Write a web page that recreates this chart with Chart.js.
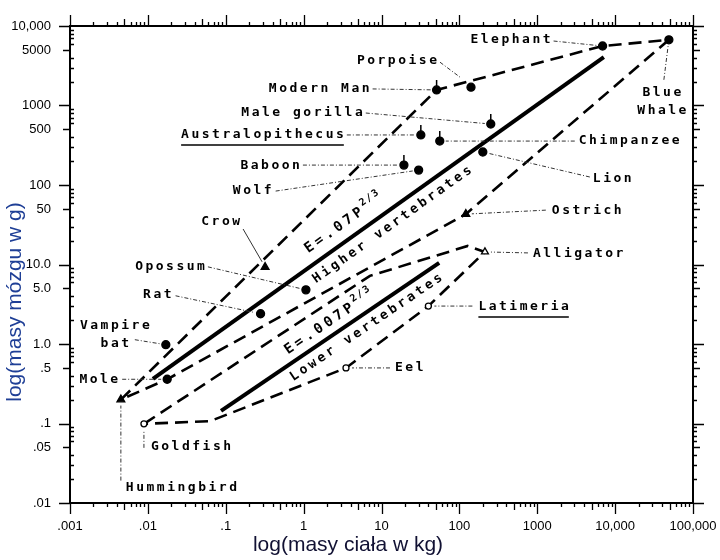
<!DOCTYPE html>
<html lang="pl">
<head>
<meta charset="UTF-8">
<title>Masa mózgu a masa ciała</title>
<script src="https://cdn.jsdelivr.net/npm/chart.js"></script>
<style>
  html, body { margin: 0; padding: 0; background: #fff; }
  #wrap { width: 720px; height: 560px; }
</style>
</head>
<body>
<div id="wrap"><canvas id="brainChart"></canvas></div>
<script>
// gatunki: masa ciała [kg], masa mózgu [g]
const species = ['Elephant', 'Blue Whale', 'Porpoise', 'Modern Man', 'Male gorilla', 'Australopithecus',
  'Chimpanzee', 'Lion', 'Baboon', 'Wolf', 'Crow', 'Opossum', 'Rat', 'Vampire bat', 'Mole',
  'Hummingbird', 'Goldfish', 'Ostrich', 'Alligator', 'Latimeria', 'Eel'];
const bodyKg = [6900, 49000, 141, 51, 253, 32, 56, 200, 19.4, 30, 0.32, 1.07, 0.28, 0.017, 0.0177,
  0.0045, 0.0089, 121, 213, 40, 3.5];
const brainG = [5600, 6700, 1700, 1570, 585, 426, 357, 260, 178, 154, 9.3, 4.8, 2.4, 0.98, 0.36,
  0.20, 0.099, 43, 14.4, 3.0, 0.50];
const group = ['mammal', 'mammal', 'mammal', 'primate', 'primate', 'primate', 'primate', 'mammal',
  'primate', 'mammal', 'bird', 'mammal', 'mammal', 'mammal', 'mammal', 'bird', 'fish', 'bird',
  'reptile', 'fish', 'fish'];

// obwiednie (linie przerywane)
const higherPolyX = [0.0045, 51, 6900, 49000, 121, 0.0177, 0.0045];
const higherPolyY = [0.20, 1570, 5600, 6700, 43, 0.36, 0.20];
const lowerPolyX = [0.0089, 7.1, 128, 213, 40, 3.5, 0.063, 0.0089];
const lowerPolyY = [0.099, 7.2, 17.1, 14.4, 3.0, 0.50, 0.107, 0.099];

// proste E = k P^(2/3)
const higherFitX = [0.0116, 7160];
const higherFitY = [0.363, 4070];
const lowerFitX = [0.087, 55];
const lowerFitY = [0.144, 10.5];

const xTicks = [0.001, 0.01, 0.1, 1, 10, 100, 1000, 10000, 100000];
const xTickText = ['.001', '.01', '.1', '1', '10', '100', '1000', '10,000', '100,000'];
const yTicks = [0.01, 0.05, 0.1, 0.5, 1, 5, 10, 50, 100, 500, 1000, 5000, 10000];
const yTickText = ['.01', '.05', '.1', '.5', '1.0', '5.0', '10.0', '50', '100', '500', '1000', '5000', '10,000'];

const markStyle = {
  mammal:  { shape: 'circle',   r: 4,   fill: '#000' },
  primate: { shape: 'circle',   r: 4,   fill: '#000' },
  bird:    { shape: 'triangle', r: 4.5, fill: '#000' },
  reptile: { shape: 'triangle', r: 4,   fill: '#fff' },
  fish:    { shape: 'circle',   r: 3,   fill: '#fff' }
};

// opisy punktów: przesunięcia w pikselach względem punktu
const notes = {
  'Elephant':         { dx: -52, dy: -6, align: 'right', from: [-49, -5] },
  'Blue Whale':       { dx: -7, dy: 53, align: 'center', lines: ['Blue', 'Whale'], from: [-5, 40] },
  'Porpoise':         { dx: -34, dy: -27, align: 'right', from: [-31, -25], to: [-11, -10] },
  'Modern Man':       { dx: -67, dy: -1, align: 'right', from: [-64, -1] },
  'Male gorilla':     { dx: -128, dy: -11, align: 'right', from: [-125, -11] },
  'Australopithecus': { dx: -77, dy: 0, align: 'right', from: [-74, 0], underline: true },
  'Chimpanzee':       { dx: 139, dy: 0, align: 'left', from: [135, 0] },
  'Lion':             { dx: 110, dy: 27, align: 'left', from: [107, 25] },
  'Baboon':           { dx: -104, dy: 1, align: 'right', from: [-101, 0] },
  'Wolf':             { dx: -147, dy: 21, align: 'right', from: [-143, 21] },
  'Crow':             { dx: -25, dy: -45, align: 'right', from: [-22, -38], solid: true },
  'Opossum':          { dx: -101, dy: -23, align: 'right', from: [-98, -23] },
  'Rat':              { dx: -89, dy: -19, align: 'right', from: [-85, -18] },
  'Vampire bat':      { dx: -51, dy: -19, align: 'center', lines: ['Vampire', 'bat'], from: [-31, -5] },
  'Mole':             { dx: -49, dy: 0, align: 'right', from: [-45, 0] },
  'Hummingbird':      { dx: 5, dy: 88, align: 'left', from: [0, 81] },
  'Goldfish':         { dx: 7, dy: 23, align: 'left', from: [0, 24] },
  'Ostrich':          { dx: 86, dy: -4, align: 'left', from: [80, -4] },
  'Alligator':        { dx: 48, dy: 2, align: 'left', from: [43, 1] },
  'Latimeria':        { dx: 50, dy: 1, align: 'left', from: [44, 0], underline: true },
  'Eel':              { dx: 49, dy: 0, align: 'left', from: [44, 0] }
};

const slopeNotes = [
  { fit: 1, t: 0.36, off: -12, text: 'E=.07P', sup: '2/3', size: 14, ls: 3.5 },
  { fit: 1, t: 0.34, off: 17, text: 'Higher vertebrates', size: 13, ls: 3 },
  { fit: 2, t: 0.33, off: -9, text: 'E=.007P', sup: '2/3', size: 14, ls: 3.5 },
  { fit: 2, t: 0.29, off: 16, text: 'Lower vertebrates', size: 13, ls: 3 }
];

const MONO = '"DejaVu Sans Mono", monospace';
const toXY = (xs, ys) => xs.map((x, i) => ({ x: x, y: ys[i] }));

function textWidth(ctx, txt, ls) {
  ctx.letterSpacing = '0px';
  const w = ctx.measureText(txt).width + ls * (txt.length - 1);
  ctx.letterSpacing = ls + 'px';
  return w;
}

function tickLen(k) { return k === 1 ? 11 : (k === 5 ? 7 : 4); }

const decorations = {
  id: 'decorations',
  afterDatasetsDraw(chart) {
    const { ctx, chartArea: a, scales } = chart;
    ctx.save();

    // znaczniki osi na wszystkich czterech bokach
    ctx.strokeStyle = '#000';
    ctx.lineWidth = 1.3;
    ctx.beginPath();
    for (let e = -3; e <= 5; e++) {
      for (let k = 1; k <= 9; k++) {
        const v = k * Math.pow(10, e);
        if (v > 100000 * 1.001) break;
        const px = Math.round(scales.x.getPixelForValue(v)) + 0.5;
        const len = tickLen(k);
        ctx.moveTo(px, a.bottom); ctx.lineTo(px, a.bottom + len);
        ctx.moveTo(px, a.top); ctx.lineTo(px, a.top - len);
      }
    }
    for (let e = -2; e <= 4; e++) {
      for (let k = 1; k <= 9; k++) {
        const v = k * Math.pow(10, e);
        if (v > 10000 * 1.001) break;
        const py = Math.round(scales.y.getPixelForValue(v)) + 0.5;
        const len = tickLen(k);
        if (k === 1 || k === 5) { ctx.moveTo(a.left - len, py); ctx.lineTo(a.left, py); }
        else { ctx.moveTo(a.left, py); ctx.lineTo(a.left + len, py); }
        ctx.moveTo(a.right, py); ctx.lineTo(a.right + len, py);
      }
    }
    ctx.stroke();

    // kreski nad naczelnymi
    const meta = chart.getDatasetMeta(0);
    ctx.lineWidth = 1.5;
    ctx.beginPath();
    group.forEach((g, i) => {
      if (g !== 'primate') return;
      const el = meta.data[i];
      ctx.moveTo(el.x, el.y - 4); ctx.lineTo(el.x, el.y - 10);
    });
    ctx.stroke();

    // linie odniesienia i podpisy
    const LS = 2.5;
    ctx.font = 'bold 13px ' + MONO;
    ctx.fillStyle = '#000';
    ctx.textBaseline = 'middle';
    ctx.textAlign = 'left';
    species.forEach((name, i) => {
      const n = notes[name];
      const el = meta.data[i];
      const x = el.x, y = el.y;
      const sx = x + n.from[0], sy = y + n.from[1];
      let ex, ey;
      if (n.to) { ex = x + n.to[0]; ey = y + n.to[1]; }
      else {
        const d = Math.hypot(sx - x, sy - y);
        ex = x + (sx - x) * 6 / d;
        ey = y + (sy - y) * 6 / d;
      }
      ctx.lineWidth = 1;
      ctx.strokeStyle = '#333';
      ctx.setLineDash(n.solid ? [] : [4, 2, 1, 2]);
      ctx.beginPath(); ctx.moveTo(sx, sy); ctx.lineTo(ex, ey); ctx.stroke();
      ctx.setLineDash([]);

      const lines = n.lines || [name];
      lines.forEach((txt, j) => {
        const w = textWidth(ctx, txt, LS);
        let tx = x + n.dx;
        if (n.align === 'right') tx -= w;
        else if (n.align === 'center') tx -= w / 2;
        const ty = y + n.dy + j * 18;
        ctx.fillText(txt, tx, ty);
        if (n.underline) {
          ctx.strokeStyle = '#000';
          ctx.lineWidth = 1.5;
          ctx.beginPath(); ctx.moveTo(tx, ty + 10); ctx.lineTo(tx + w, ty + 10); ctx.stroke();
        }
      });
    });

    // napisy wzdłuż prostych
    ctx.textBaseline = 'alphabetic';
    slopeNotes.forEach(s => {
      const m = chart.getDatasetMeta(s.fit);
      const p0 = m.data[0], p1 = m.data[1];
      const ang = Math.atan2(p1.y - p0.y, p1.x - p0.x);
      ctx.save();
      ctx.translate(p0.x + s.t * (p1.x - p0.x), p0.y + s.t * (p1.y - p0.y));
      ctx.rotate(ang);
      ctx.font = 'bold ' + s.size + 'px ' + MONO;
      const w = textWidth(ctx, s.text, s.ls);
      ctx.fillText(s.text, 0, s.off);
      if (s.sup) {
        ctx.font = 'bold 10px ' + MONO;
        textWidth(ctx, s.sup, 1.5);
        ctx.fillText(s.sup, w + 3, s.off - 7);
      }
      ctx.restore();
    });
    ctx.letterSpacing = '0px';

    // tytuły osi
    ctx.font = '21px "Liberation Sans", Arial, sans-serif';
    ctx.textAlign = 'center';
    ctx.textBaseline = 'middle';
    ctx.fillStyle = '#111133';
    ctx.fillText('log(masy ciała w kg)', 348, 545);
    ctx.save();
    ctx.translate(15, 302);
    ctx.rotate(-Math.PI / 2);
    ctx.fillStyle = '#1f3f96';
    ctx.fillText('log(masy mózgu w g)', 0, 0);
    ctx.restore();

    ctx.restore();
  }
};

const tickFont = { family: '"Liberation Sans", Arial, sans-serif', size: 13 };
const noPad = s => { s.paddingLeft = 0; s.paddingRight = 0; s.paddingTop = 0; s.paddingBottom = 0; };

new Chart(document.getElementById('brainChart'), {
  type: 'scatter',
  data: {
    datasets: [
      {
        label: 'Gatunki',
        data: toXY(bodyKg, brainG),
        pointStyle: group.map(g => markStyle[g].shape),
        pointRadius: group.map(g => markStyle[g].r),
        pointBackgroundColor: group.map(g => markStyle[g].fill),
        pointBorderColor: '#000',
        pointBorderWidth: 1.3,
        showLine: false
      },
      {
        label: 'Higher vertebrates',
        data: toXY(higherFitX, higherFitY),
        showLine: true, borderColor: '#000', borderWidth: 4, pointRadius: 0
      },
      {
        label: 'Lower vertebrates',
        data: toXY(lowerFitX, lowerFitY),
        showLine: true, borderColor: '#000', borderWidth: 4, pointRadius: 0
      },
      {
        label: 'Obwiednia - kręgowce wyższe',
        data: toXY(higherPolyX, higherPolyY),
        showLine: true, borderColor: '#000', borderWidth: 2.6, borderDash: [13, 7], pointRadius: 0
      },
      {
        label: 'Obwiednia - kręgowce niższe',
        data: toXY(lowerPolyX, lowerPolyY),
        showLine: true, borderColor: '#000', borderWidth: 2.6, borderDash: [13, 7], pointRadius: 0
      }
    ]
  },
  options: {
    responsive: true,
    maintainAspectRatio: false,
    animation: false,
    events: [],
    layout: { padding: 0 },
    plugins: { legend: { display: false }, tooltip: { enabled: false } },
    scales: {
      x: {
        type: 'logarithmic', position: 'bottom', min: 0.001, max: 100000,
        afterBuildTicks: s => { s.ticks = xTicks.map(v => ({ value: v })); },
        afterFit: s => { s.height = 57; noPad(s); },
        grid: { display: false },
        border: { color: '#000', width: 2 },
        ticks: {
          autoSkip: false, maxRotation: 0, padding: 8, color: '#000', font: tickFont,
          callback: v => xTickText[xTicks.indexOf(v)]
        }
      },
      y: {
        type: 'logarithmic', position: 'left', min: 0.01, max: 10000,
        afterBuildTicks: s => { s.ticks = yTicks.map(v => ({ value: v })); },
        afterFit: s => { s.width = 70; noPad(s); },
        grid: { display: false },
        border: { color: '#000', width: 2 },
        ticks: {
          autoSkip: false, padding: 11, color: '#000', font: tickFont,
          callback: v => yTickText[yTicks.indexOf(v)]
        }
      },
      xTop: {
        type: 'logarithmic', position: 'top', min: 0.001, max: 100000,
        afterFit: s => { s.height = 26; noPad(s); },
        grid: { display: false },
        border: { color: '#000', width: 2 },
        ticks: { display: false }
      },
      yRight: {
        type: 'logarithmic', position: 'right', min: 0.01, max: 10000,
        afterFit: s => { s.width = 27; noPad(s); },
        grid: { display: false },
        border: { color: '#000', width: 2 },
        ticks: { display: false }
      }
    }
  },
  plugins: [decorations]
});
</script>
</body>
</html>
